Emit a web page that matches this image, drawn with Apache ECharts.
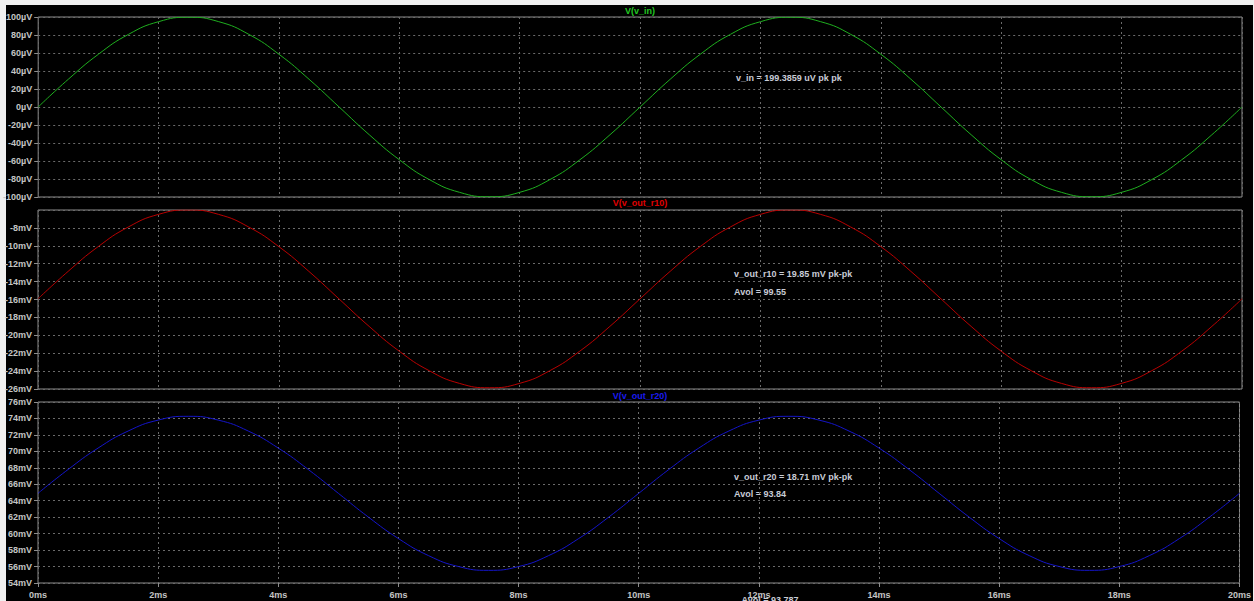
<!DOCTYPE html>
<html>
<head>
<meta charset="utf-8">
<script src="https://cdn.jsdelivr.net/npm/echarts@6/dist/echarts.min.js"></script>
<style>
  html, body { margin: 0; padding: 0; background: #f0f0f0; }
  #chart { width: 1254px; height: 601px; }
</style>
</head>
<body>
<div id="chart"></div>
<script>
// Transient simulation, 0..20 ms, sampled every 0.5 ms
const timeMs = [0,0.5,1,1.5,2,2.5,3,3.5,4,4.5,5,5.5,6,6.5,7,7.5,8,8.5,9,9.5,
  10,10.5,11,11.5,12,12.5,13,13.5,14,14.5,15,15.5,16,16.5,17,17.5,18,18.5,19,19.5,20];

// V(v_in) in µV
const vIn = [0,30.8,58.6,80.7,94.8,99.7,94.8,80.7,58.6,30.8,0,-30.8,-58.6,-80.7,-94.8,-99.7,-94.8,-80.7,-58.6,-30.8,
  0,30.8,58.6,80.7,94.8,99.7,94.8,80.7,58.6,30.8,0,-30.8,-58.6,-80.7,-94.8,-99.7,-94.8,-80.7,-58.6,-30.8,0];

// V(v_out_r10) in mV
const vOutR10 = [-15.93,-12.86,-10.09,-7.90,-6.49,-6.00,-6.49,-7.90,-10.09,-12.86,-15.93,-19.00,-21.77,-23.96,-25.37,-25.86,-25.37,-23.96,-21.77,-19.00,
  -15.93,-12.86,-10.09,-7.90,-6.49,-6.00,-6.49,-7.90,-10.09,-12.86,-15.93,-19.00,-21.77,-23.96,-25.37,-25.86,-25.37,-23.96,-21.77,-19.00,-15.93];

// V(v_out_r20) in mV
const vOutR20 = [64.90,67.79,70.40,72.47,73.80,74.26,73.80,72.47,70.40,67.79,64.90,62.01,59.40,57.33,56.00,55.54,56.00,57.33,59.40,62.01,
  64.90,67.79,70.40,72.47,73.80,74.26,73.80,72.47,70.40,67.79,64.90,62.01,59.40,57.33,56.00,55.54,56.00,57.33,59.40,62.01,64.90];

const paneTitles = ['V(v_in)', 'V(v_out_r10)', 'V(v_out_r20)'];
const measureNotes = [
  ['v_in = 199.3859 uV pk pk'],
  ['v_out_r10 = 19.85 mV pk-pk', 'Avol = 99.55'],
  ['v_out_r20 = 18.71 mV pk-pk', 'Avol = 93.84']
];
const footerNote = 'Avol = 93.787';

const FONT = 'Liberation Sans';
const labelColor = '#c4c4c4';
const noteColor = '#c8ccd6';
const frameColor = '#8c8c8c';
const gridLineColor = '#6a6a6a';

const grids = [
  { left: 38, top: 17, width: 1204, height: 180 },
  { left: 38, top: 210, width: 1204, height: 179 },
  { left: 38, top: 402, width: 1204, height: 181 }
].map(g => Object.assign(g, { show: true, borderColor: frameColor, borderWidth: 1, backgroundColor: 'transparent' }));

function xAxis(idx, withLabels) {
  return {
    type: 'value', gridIndex: idx, min: 0, max: 20, interval: 2,
    axisLine: { show: false },
    axisTick: { show: withLabels, length: 4, lineStyle: { color: frameColor } },
    axisLabel: { show: withLabels, formatter: v => v + 'ms', color: labelColor,
      fontFamily: FONT, fontSize: 9, fontWeight: 'bold', margin: 7 },
    splitLine: { show: true, lineStyle: { color: gridLineColor, type: [2, 3], width: 1 } }
  };
}
function yAxis(idx, min, max, interval, unit, showMax) {
  return {
    type: 'value', gridIndex: idx, min: min, max: max, interval: interval,
    axisLine: { show: false },
    axisTick: { show: true, length: 4, lineStyle: { color: frameColor } },
    axisLabel: { color: labelColor, fontFamily: FONT, fontSize: 9, fontWeight: 'bold', margin: 6,
      showMaxLabel: showMax, showMinLabel: true, formatter: v => v + unit },
    splitLine: { show: true, lineStyle: { color: gridLineColor, type: [2, 3], width: 1 } }
  };
}

function pairs(vals) { return timeMs.map((t, i) => [t, vals[i]]); }

const colors = {
  line: ['#1fae1f', '#b80000', '#1414c8'],
  title: ['#22c822', '#e00000', '#1a1aee']
};

const titleY = [6, 198, 391];
const titles = paneTitles.map((t, i) => ({
  text: t, left: 640, top: titleY[i], textAlign: 'center', padding: 0,
  textStyle: { color: colors.title[i], fontFamily: FONT, fontSize: 9, fontWeight: 'bold' }
}));

const noteY = [[78], [274, 292], [477, 494]];
const noteX = [736, 734, 734];
const graphics = [
  // window edge
  { type: 'rect', shape: { x: 0, y: 0, width: 1254, height: 5 }, style: { fill: '#f0f0f0' }, silent: true },
  { type: 'rect', shape: { x: 0, y: 0, width: 6, height: 601 }, style: { fill: '#f0f0f0' }, silent: true },
  { type: 'rect', shape: { x: 1253, y: 0, width: 1, height: 601 }, style: { fill: '#f0f0f0' }, silent: true }
];
measureNotes.forEach((lines, i) => {
  lines.forEach((s, j) => {
    graphics.push({ type: 'text', x: noteX[i], y: noteY[i][j], silent: true,
      style: { text: s, fill: noteColor, font: 'bold 9px "' + FONT + '"', textVerticalAlign: 'middle', textAlign: 'left' } });
  });
});
graphics.push({ type: 'text', x: 770, y: 595, silent: true,
  style: { text: footerNote, fill: noteColor, font: 'bold 9px "' + FONT + '"', textVerticalAlign: 'top', textAlign: 'center' } });

const chart = echarts.init(document.getElementById('chart'), null, { renderer: 'svg' });
chart.setOption({
  backgroundColor: '#000000',
  animation: false,
  title: titles,
  grid: grids,
  xAxis: [xAxis(0, false), xAxis(1, false), xAxis(2, true)],
  yAxis: [
    yAxis(0, -100, 100, 20, 'µV', true),
    yAxis(1, -26, -6, 2, 'mV', false),
    yAxis(2, 54, 76, 2, 'mV', true)
  ],
  series: [
    { type: 'line', xAxisIndex: 0, yAxisIndex: 0, data: pairs(vIn), smooth: true, showSymbol: false,
      lineStyle: { color: colors.line[0], width: 1 } },
    { type: 'line', xAxisIndex: 1, yAxisIndex: 1, data: pairs(vOutR10), smooth: true, showSymbol: false,
      lineStyle: { color: colors.line[1], width: 1 } },
    { type: 'line', xAxisIndex: 2, yAxisIndex: 2, data: pairs(vOutR20), smooth: true, showSymbol: false,
      lineStyle: { color: colors.line[2], width: 1 } }
  ],
  graphic: graphics
});
</script>
</body>
</html>
